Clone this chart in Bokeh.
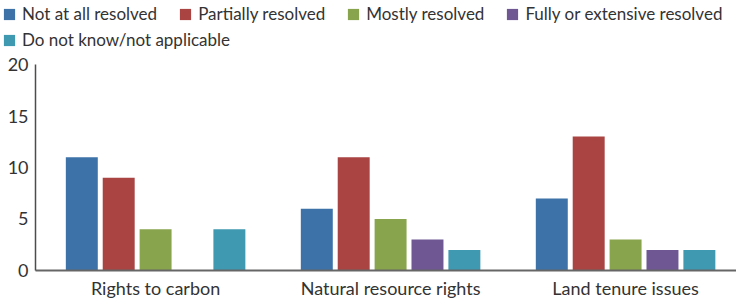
from bokeh.plotting import figure
from bokeh.models import ColumnDataSource, Legend, LegendItem, FixedTicker, Range1d
from bokeh.transform import dodge
from bokeh.embed import file_html
from bokeh.resources import INLINE

categories = ["Rights to carbon", "Natural resource rights", "Land tenure issues"]
series = ["Not at all resolved", "Partially resolved", "Mostly resolved",
          "Fully or extensive resolved", "Do not know/not applicable"]
not_at_all = [11, 6, 7]
partially = [9, 11, 13]
mostly = [4, 5, 3]
fully = [0, 3, 2]
dont_know = [4, 2, 2]
colors = ["#3c72a8", "#a94443", "#88a44d", "#6f5794", "#3f99b1"]
y_ticks = [0, 5, 10, 15, 20]

FONT = "Lato"
TXT = "#333333"
FW, FH = 736, 300
X0, X1 = -0.660, 2.472
AXIS_X = -0.511
Y0, Y1 = -2.913, 26.214

pos = list(range(len(categories)))
src = ColumnDataSource(dict(x=pos, s0=not_at_all, s1=partially,
                            s2=mostly, s3=fully, s4=dont_know))

p = figure(x_range=Range1d(X0, X1), y_range=Range1d(Y0, Y1),
           frame_width=FW, frame_height=FH,
           output_backend="svg", toolbar_location=None,
           min_border_left=0, min_border_right=0, min_border_top=0,
           min_border_bottom=0)
p.outline_line_color = None
p.xgrid.visible = False
p.ygrid.visible = False

step = 0.157
width = 0.136
renderers = []
for i, col in enumerate(["s0", "s1", "s2", "s3", "s4"]):
    r = p.vbar(x=dodge("x", (i - 2) * step), top=col,
               width=width, source=src, color=colors[i], line_color=None)
    renderers.append(r)

yax = p.yaxis[0]
yax.fixed_location = AXIS_X
yax.bounds = (0, 20)
yax.ticker = FixedTicker(ticks=y_ticks)
yax.major_tick_line_color = None
yax.minor_tick_line_color = None
yax.major_tick_out = 0
yax.major_tick_in = 0
yax.axis_line_color = "#4d4d4d"
yax.axis_line_width = 1.5
yax.major_label_text_font = FONT
yax.major_label_text_font_size = "18px"
yax.major_label_text_color = TXT
yax.major_label_standoff = 7

xax = p.xaxis[0]
xax.fixed_location = 0
xax.bounds = (AXIS_X, X1)
xax.ticker = FixedTicker(ticks=pos)
xax.major_label_overrides = {i: c for i, c in zip(pos, categories)}
xax.major_tick_line_color = None
xax.minor_tick_line_color = None
xax.major_tick_out = 0
xax.major_tick_in = 0
xax.axis_line_color = "#666666"
xax.axis_line_width = 2
xax.major_label_text_font = FONT
xax.major_label_text_font_size = "18px"
xax.major_label_text_color = TXT
xax.major_label_standoff = 7

def make_legend(items, loc):
    return Legend(items=items, orientation="horizontal", location=loc,
                  glyph_width=14, glyph_height=14, label_standoff=6, spacing=21,
                  padding=0, margin=0, border_line_alpha=0,
                  background_fill_alpha=0,
                  label_text_font=FONT, label_text_font_size="17px",
                  label_text_color=TXT, label_height=14)

items1 = [LegendItem(label=series[i], renderers=[renderers[i]]) for i in range(4)]
items2 = [LegendItem(label=series[4], renderers=[renderers[4]])]
p.add_layout(make_legend(items1, (2, FH - 24)), "center")
p.add_layout(make_legend(items2, (2, FH - 50)), "center")

open("out.html", "w").write(file_html(p, INLINE))
